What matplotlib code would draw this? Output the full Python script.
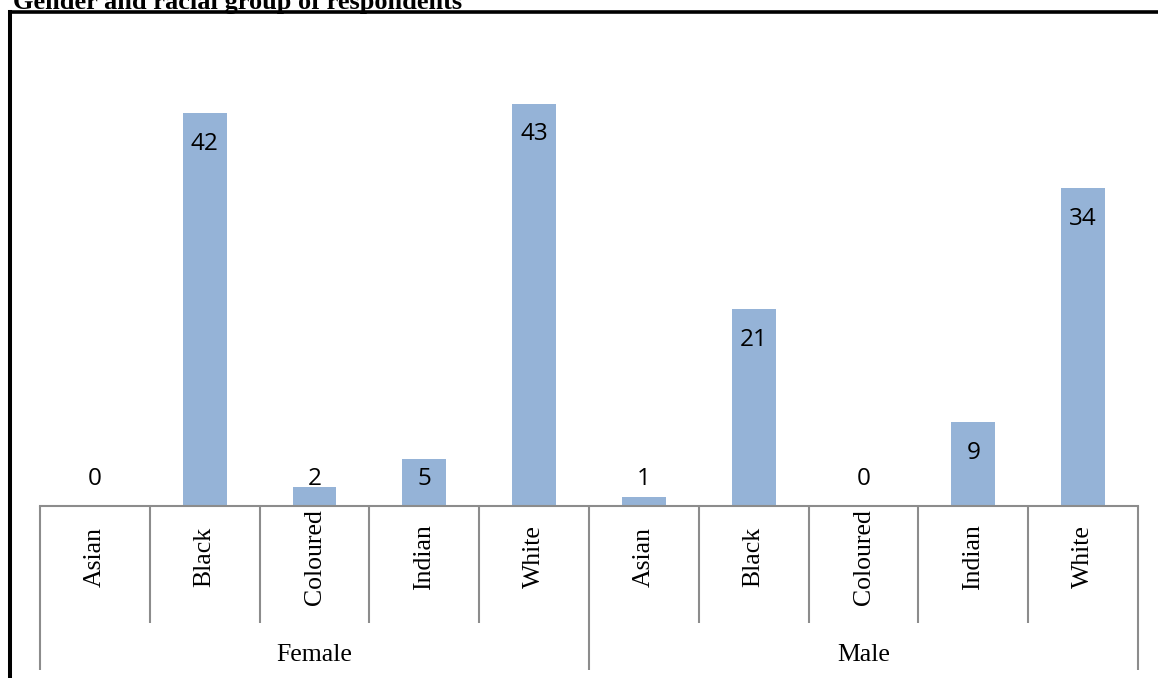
import matplotlib
matplotlib.use("Agg")
import matplotlib.pyplot as plt
from matplotlib.lines import Line2D

# Dados: respondentes por género e grupo racial
generos = ["Female", "Male"]
racas = ["Asian", "Black", "Coloured", "Indian", "White"]
feminino = [0, 42, 2, 5, 43]
masculino = [1, 21, 0, 9, 34]

valores = feminino + masculino
rotulos = racas * len(generos)

W, H = 1158, 678
fig = plt.figure(figsize=(W / 100, H / 100), dpi=100)

# Área do gráfico em pixels: eixo de x=40 a x=1138, base em y=506, topo em y=38
x0, x1, base, topo = 40, 1138, 506, 38
ax = fig.add_axes([x0 / W, (H - base) / H, (x1 - x0) / W, (base - topo) / H])

cor_barra = "#95B3D7"
cor_eixo = "#8C8C8C"
serifa = "Liberation Serif"

pos = list(range(len(valores)))
ax.bar(pos, valores, width=0.4, color=cor_barra, edgecolor="none")
ax.set_xlim(-0.5, len(valores) - 0.5)
ax.set_ylim(0, 50)

for s in ["top", "right", "left"]:
    ax.spines[s].set_visible(False)
ax.spines["bottom"].set_color(cor_eixo)
ax.spines["bottom"].set_linewidth(1.5)
ax.set_xticks([])
ax.set_yticks([])

# Rótulos de valor dentro do topo da barra (fixos perto da base nas barras curtas)
for p, v in zip(pos, valores):
    y = max(v - 3.3, 2.9)
    ax.text(p, y, str(v), ha="center", va="center", fontsize=17.5,
            family="Open Sans", color="black")

# Eixo de categorias em dois níveis
altura_ax = base - topo
trans = ax.get_xaxis_transform()
y_interno = -(623 - base) / altura_ax
y_grupo = -(670 - base) / altura_ax
n = len(racas)
for i in range(len(valores) + 1):
    xd = i - 0.5
    fim = y_grupo if i % n == 0 else y_interno
    ax.plot([xd, xd], [0, fim], color=cor_eixo, lw=1.5, transform=trans,
            clip_on=False, solid_capstyle="butt")

for p, r in zip(pos, rotulos):
    ax.text(p, -(557 - base) / altura_ax, r, rotation=90, ha="center", va="center",
            fontsize=18.5, family=serifa, transform=trans)

for g, nome in enumerate(generos):
    centro = g * n + (n - 1) / 2
    ax.text(centro, -(655 - base) / altura_ax, nome, ha="center", va="center",
            fontsize=18.5, family=serifa, transform=trans)

# Moldura preta (esquerda e topo) e título cortado no alto
fig.add_artist(Line2D([10 / W, 10 / W], [0, 1 - 11.5 / H], color="black", lw=2.9,
                      transform=fig.transFigure, solid_capstyle="projecting"))
fig.add_artist(Line2D([10 / W, 1], [1 - 11.5 / H, 1 - 11.5 / H], color="black", lw=2.6,
                      transform=fig.transFigure))
fig.text(13 / W, 1 - 9.5 / H, "Gender and racial group of respondents",
         ha="left", va="baseline", fontsize=19, fontweight="bold", family=serifa)

fig.savefig("out.png", dpi=100)
